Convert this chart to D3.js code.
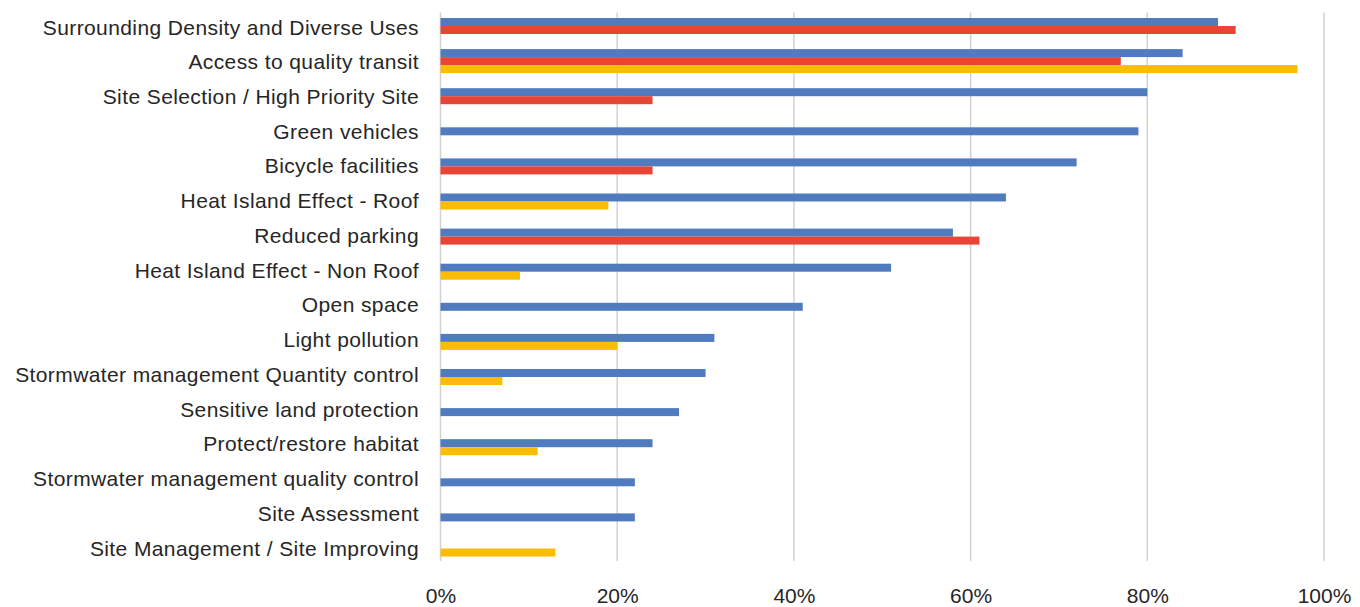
<!DOCTYPE html>
<html>
<head>
<meta charset="utf-8">
<script src="https://cdn.jsdelivr.net/npm/d3@7"></script>
<style>
  html, body { margin: 0; padding: 0; background: #ffffff; }
  svg { display: block; }
  text { font-family: "Liberation Sans", Arial, Helvetica, sans-serif; fill: #262626; }
</style>
</head>
<body>
<svg id="chart" width="1360" height="607"></svg>
<script>
// Credit categories, top to bottom
const categories = [
  "Surrounding Density and Diverse Uses",
  "Access to quality transit",
  "Site Selection / High Priority Site",
  "Green vehicles",
  "Bicycle facilities",
  "Heat Island Effect - Roof",
  "Reduced parking",
  "Heat Island Effect - Non Roof",
  "Open space",
  "Light pollution",
  "Stormwater management Quantity control",
  "Sensitive land protection",
  "Protect/restore habitat",
  "Stormwater management quality control",
  "Site Assessment",
  "Site Management / Site Improving"
];

// Share of projects (%) per series; 0 means no bar for that category
const blueValues   = [88, 84, 80, 79, 72, 64, 58, 51, 41, 31, 30, 27, 24, 22, 22, 0];
const redValues    = [90, 77, 24, 0, 24, 0, 61, 0, 0, 0, 0, 0, 0, 0, 0, 0];
const yellowValues = [0, 97, 0, 0, 0, 19, 0, 9, 0, 20, 7, 0, 11, 0, 0, 13];

const seriesKeys = ["blue", "red", "yellow"];
const seriesColors = ["#507bbf", "#e74536", "#fbbc05"];

const xTicks = [0, 20, 40, 60, 80, 100];

// Build rows for drawing
const seriesValues = [blueValues, redValues, yellowValues];
const rows = categories.map((name, i) => ({
  name,
  values: seriesKeys.map((k, j) => ({ key: k, value: seriesValues[j][i] }))
}));

const svg = d3.select("#chart");

const plotLeft = 440.5, plotRight = 1324;
const gridTop = 12.5, gridBottom = 561;
const barThickness = 8;

const x = d3.scaleLinear().domain([0, 100]).range([plotLeft, plotRight]);

// Bar rows and label rows use their own vertical spacing
const y = d3.scaleBand().domain(categories).range([8.45, 570.05]).padding(0);
const yLabel = d3.scaleBand().domain(categories).range([10.4, 566.2]).padding(0);

const color = d3.scaleOrdinal().domain(seriesKeys).range(seriesColors);

// Vertical gridlines
svg.append("g")
  .selectAll("line")
  .data(xTicks)
  .join("line")
  .attr("x1", d => x(d))
  .attr("x2", d => x(d))
  .attr("y1", gridTop)
  .attr("y2", gridBottom)
  .attr("stroke", "#d2d2d2")
  .attr("stroke-width", 1.5);

// Bars: each category shows only its non-zero series, centred on the row
const groups = svg.append("g")
  .selectAll("g")
  .data(rows)
  .join("g")
  .attr("transform", d => `translate(0,${y(d.name) + y.bandwidth() / 2})`);

groups.each(function (row) {
  const present = row.values.filter(v => v.value > 0);
  const inner = d3.scaleBand()
    .domain(present.map(v => v.key))
    .range([-present.length * barThickness / 2, present.length * barThickness / 2]);
  d3.select(this)
    .selectAll("rect")
    .data(present)
    .join("rect")
    .attr("x", x(0))
    .attr("y", v => inner(v.key))
    .attr("width", v => x(v.value) - x(0))
    .attr("height", inner.bandwidth())
    .attr("fill", v => color(v.key));
});

// Category labels
const yAxis = svg.append("g")
  .attr("transform", `translate(${plotLeft},0)`)
  .call(d3.axisLeft(yLabel).tickSize(0).tickPadding(21.5));
yAxis.select(".domain").remove();
yAxis.selectAll("text")
  .style("font-family", "'Liberation Sans', Arial, sans-serif")
  .style("font-size", "21px")
  .style("letter-spacing", "0.4px")
  .attr("fill", "#262626");

// Percentage axis
const xAxis = svg.append("g")
  .attr("transform", `translate(0,${gridBottom})`)
  .call(d3.axisBottom(x).tickValues(xTicks).tickSize(0).tickPadding(27.5).tickFormat(d => d + "%"));
xAxis.select(".domain").remove();
xAxis.selectAll("text")
  .style("font-family", "'Liberation Sans', Arial, sans-serif")
  .style("font-size", "21px")
  .attr("fill", "#262626");
</script>
</body>
</html>
